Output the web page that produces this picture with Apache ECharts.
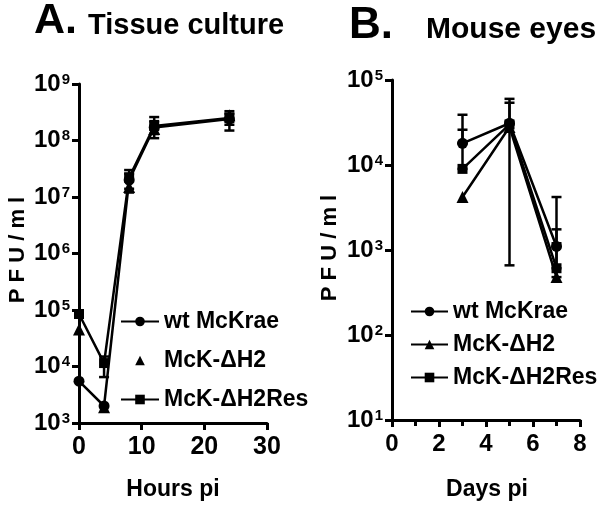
<!DOCTYPE html>
<html><head><meta charset="utf-8">
<script src="https://cdn.jsdelivr.net/npm/echarts@6/dist/echarts.min.js"></script>
<style>html,body{margin:0;padding:0;background:#fff}#c{width:600px;height:509px}</style>
</head><body><div id="c"></div>
<script>
// ---- Data: Panel A (Tissue culture) ----
const hoursA = [0, 4, 8, 12, 24];
const wtA   = [5.5e3, 2.0e3, 2.0e7, 1.7e8, 2.4e8];
const dh2A  = [4.5e4, 1.9e3, 1.5e7, 1.6e8, 2.8e8];
const resA  = [8.5e4, 1.15e4, 2.2e7, 1.8e8, 2.5e8];
const resA_low  = [null, 6.5e3, 1.2e7, 1.1e8, 1.5e8];
const resA_high = [null, 1.5e4, 3.0e7, 2.6e8, 3.3e8];
const wtA_low   = [null, null, 1.4e7, 1.3e8, 1.9e8];
const wtA_high  = [null, null, 2.6e7, 2.2e8, 3.0e8];
// ---- Data: Panel B (Mouse eyes) ----
const daysB = [3, 5, 7];
const wtB   = [1.8e4, 3.1e4, 1.1e3];
const dh2B  = [4.2e3, 2.8e4, 4.8e2];
const resB  = [9.0e3, 3.0e4, 6.1e2];
const wtB_low   = [null, 6.6e2, null];
const wtB_high  = [3.9e4, 6.0e4, 4.2e3];
const resB_low  = [null, null, null];
const resB_high = [2.6e4, 5.4e4, 1.75e3];
const dh2B_high = [null, null, 1.2e3];
const dh2B_low  = [null, null, null];
// tick labels
const xTicksA = [0, 10, 20, 30];
const xTicksB = [0, 2, 4, 6, 8];
const seriesNames = ['wt McKrae', 'McK-\u0394H2', 'McK-\u0394H2Res'];

const FONT = "'Liberation Sans', Arial, sans-serif";
const chart = echarts.init(document.getElementById('c'), null, {renderer: 'canvas'});

function pairs(xs, ys) { return xs.map((x, i) => [x, ys[i]]); }
function errs(xs, lo, hi, vals) {
  const out = [];
  xs.forEach((x, i) => {
    if (lo[i] == null && hi[i] == null) return;
    out.push([x, lo[i] != null ? lo[i] : vals[i], hi[i] != null ? hi[i] : vals[i]]);
  });
  return out;
}
function errRender(params, api) {
  const x = api.value(0), lo = api.value(1), hi = api.value(2);
  const p1 = api.coord([x, lo]), p2 = api.coord([x, hi]);
  const w = 5;
  const st = {stroke: '#000', lineWidth: 2.5};
  return {type: 'group', children: [
    {type: 'line', shape: {x1: p1[0], y1: p1[1], x2: p2[0], y2: p2[1]}, style: st},
    {type: 'line', shape: {x1: p1[0]-w, y1: p1[1], x2: p1[0]+w, y2: p1[1]}, style: st},
    {type: 'line', shape: {x1: p2[0]-w, y1: p2[1], x2: p2[0]+w, y2: p2[1]}, style: st}
  ]};
}
const logLabel = {
  margin: 9,
  formatter: v => '{b|10}{s|' + Math.round(Math.log10(v)) + '}',
  rich: {
    b: {fontSize: 24, fontWeight: 'bold', fontFamily: FONT, color: '#000'},
    s: {fontSize: 15, fontWeight: 'bold', fontFamily: FONT, color: '#000', verticalAlign: 'top', padding: [0, 0, 0, 1]}
  }
};
const axisCommon = {
  axisLine: {show: true, lineStyle: {color: '#000', width: 3}},
  axisTick: {show: true, length: 7, lineStyle: {color: '#000', width: 3}},
  splitLine: {show: false}
};
const xLabel = {margin: 12, fontSize: 25, fontWeight: 'bold', fontFamily: FONT, color: '#000'};

function lineSeries(name, xi, yi, data, symbol, size, showLine) {
  return {
    type: 'line', name, xAxisIndex: xi, yAxisIndex: yi, data,
    symbol, symbolSize: size, z: 3,
    itemStyle: {color: '#000'},
    lineStyle: {color: '#000', width: 2.5, opacity: showLine ? 1 : 0},
    emphasis: {disabled: true}, animation: false
  };
}
function errSeries(xi, yi, data) {
  return {type: 'custom', xAxisIndex: xi, yAxisIndex: yi, data, renderItem: errRender,
    encode: {x: 0, y: [1, 2]}, z: 2, animation: false, silent: true};
}

const option = {
  backgroundColor: '#fff',
  animation: false,
  textStyle: {fontFamily: FONT},
  grid: [
    {left: 79, top: 84, width: 188, height: 339},
    {left: 392, top: 80, width: 188, height: 340}
  ],
  xAxis: [
    Object.assign({}, axisCommon, {gridIndex: 0, type: 'value', min: 0, max: 30, interval: 10,
      axisLabel: Object.assign({}, xLabel, {customValues: xTicksA}),
      axisTick: {show: true, length: 7, lineStyle: {color: '#000', width: 3}, customValues: xTicksA}}),
    Object.assign({}, axisCommon, {gridIndex: 1, type: 'value', min: 0, max: 8, interval: 2,
      axisLabel: Object.assign({}, xLabel, {fontSize: 24, customValues: xTicksB}),
      minorTick: {show: true, splitNumber: 2, length: 6, lineStyle: {color: '#000', width: 3}}})
  ],
  yAxis: [
    Object.assign({}, axisCommon, {gridIndex: 0, type: 'log', logBase: 10, min: 1e3, max: 1e9, axisLabel: logLabel}),
    Object.assign({}, axisCommon, {gridIndex: 1, type: 'log', logBase: 10, min: 1e1, max: 1e5, axisLabel: logLabel})
  ],
  legend: [
    {left: 115, top: 305, orient: 'vertical', itemWidth: 38, itemHeight: 12, itemGap: 16,
      data: seriesNames, selectedMode: false,
      textStyle: {fontSize: 23, fontWeight: 'bold', fontFamily: FONT, color: '#000'}},
    {left: 405, top: 295, orient: 'vertical', itemWidth: 37, itemHeight: 12, itemGap: 10,
      data: seriesNames.map(n => 'B:' + n), selectedMode: false,
      formatter: n => n.replace(/^B:/, ''),
      textStyle: {fontSize: 23, fontWeight: 'bold', fontFamily: FONT, color: '#000'}}
  ],
  graphic: [
    {type: 'text', left: 34, top: 0, style: {text: 'A.', font: 'bold 43px ' + FONT, fill: '#000'}},
    {type: 'text', left: 88, top: 11, style: {text: 'Tissue culture', font: 'bold 29px ' + FONT, fill: '#000'}},
    {type: 'text', left: 349, top: 4, style: {text: 'B.', font: 'bold 44px ' + FONT, fill: '#000'}},
    {type: 'text', left: 426, top: 15, style: {text: 'Mouse eyes', font: 'bold 30px ' + FONT, fill: '#000'}},
    {type: 'text', x: 18, y: 250, rotation: Math.PI / 2, style: {text: 'P F U / m l', font: 'bold 22px ' + FONT, fill: '#000', align: 'center', verticalAlign: 'middle'}},
    {type: 'text', x: 330, y: 248, rotation: Math.PI / 2, style: {text: 'P F U / m l', font: 'bold 22px ' + FONT, fill: '#000', align: 'center', verticalAlign: 'middle'}},
    {type: 'text', x: 173, y: 490, style: {text: 'Hours pi', font: 'bold 23px ' + FONT, fill: '#000', align: 'center', verticalAlign: 'middle'}},
    {type: 'text', x: 487, y: 490, style: {text: 'Days pi', font: 'bold 23px ' + FONT, fill: '#000', align: 'center', verticalAlign: 'middle'}}
  ],
  series: [
    lineSeries(seriesNames[0], 0, 0, pairs(hoursA, wtA), 'circle', 11, true),
    lineSeries(seriesNames[1], 0, 0, pairs(hoursA, dh2A), 'triangle', 12, false),
    lineSeries(seriesNames[2], 0, 0, pairs(hoursA, resA), 'rect', 10, true),
    errSeries(0, 0, errs(hoursA, resA_low, resA_high, resA)),
    errSeries(0, 0, errs(hoursA, wtA_low, wtA_high, wtA)),
    lineSeries('B:' + seriesNames[0], 1, 1, pairs(daysB, wtB), 'circle', 11, true),
    lineSeries('B:' + seriesNames[1], 1, 1, pairs(daysB, dh2B), 'triangle', 12, true),
    lineSeries('B:' + seriesNames[2], 1, 1, pairs(daysB, resB), 'rect', 10, true),
    errSeries(1, 1, errs(daysB, wtB_low, wtB_high, wtB)),
    errSeries(1, 1, errs(daysB, resB_low, resB_high, resB)),
    errSeries(1, 1, errs(daysB, dh2B_low, dh2B_high, dh2B))
  ]
};
chart.setOption(option);
</script></body></html>
